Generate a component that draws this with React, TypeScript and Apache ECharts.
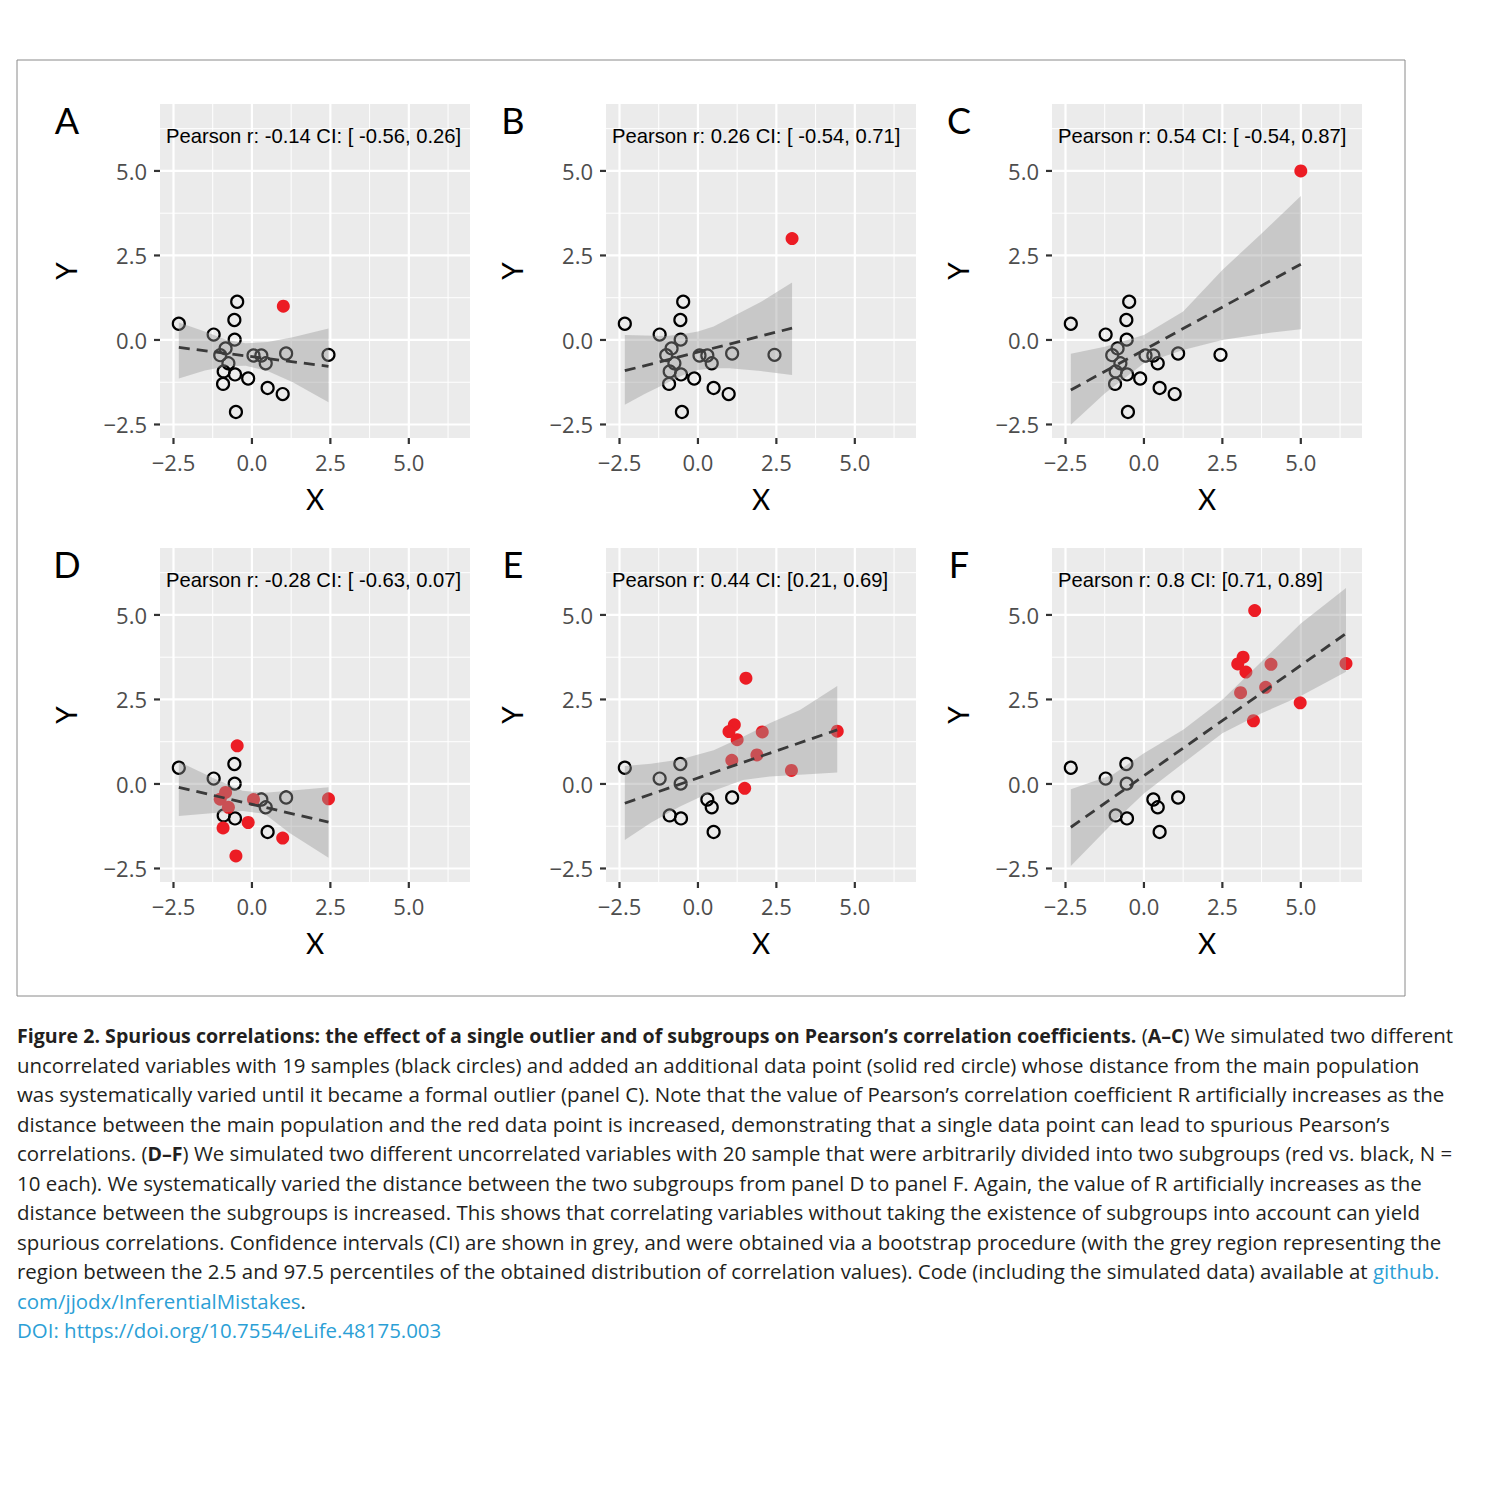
import React, { useEffect, useRef } from "react";
import * as echarts from "echarts";

// ---------- axis ticks / ranges ----------
const X_MAJOR = [-2.5, 0, 2.5, 5];
const X_MINOR = [-1.25, 1.25, 3.75, 6.25];
const Y_MAJOR = [-2.5, 0, 2.5, 5];
const Y_MINOR = [-1.25, 1.25, 3.75, 6.25];
const X_RANGE = [-2.93, 6.95];
const Y_RANGE = [-2.9, 6.98];

const PANEL_LETTERS = ["A", "B", "C", "D", "E", "F"];
const PANEL_STATS = [
  "Pearson r: -0.14 CI: [ -0.56, 0.26]",
  "Pearson r: 0.26 CI: [ -0.54, 0.71]",
  "Pearson r: 0.54 CI: [ -0.54, 0.87]",
  "Pearson r: -0.28 CI: [ -0.63, 0.07]",
  "Pearson r: 0.44 CI: [0.21, 0.69]",
  "Pearson r: 0.8 CI: [0.71, 0.89]",
];

// ---------- data ----------
// subgroup 1 (black circles in D–F)
const GROUP_BLACK = [
  [-2.33, 0.48], [-1.22, 0.16], [-0.56, 0.59], [-0.55, 0.01], [-0.9, -0.93],
  [-0.54, -1.02], [0.3, -0.46], [0.44, -0.69], [1.09, -0.4], [0.5, -1.42],
];
// subgroup 2 (red in D)
const GROUP_RED_D = [
  [-0.47, 1.13], [-0.84, -0.25], [-1.01, -0.45], [-0.75, -0.69], [0.05, -0.46],
  [-0.92, -1.3], [-0.12, -1.14], [-0.51, -2.13], [0.98, -1.6], [2.44, -0.44],
];
const GROUP_RED_E = [
  [1.53, 3.13], [1.16, 1.75], [0.99, 1.55], [1.25, 1.31], [2.05, 1.54],
  [1.08, 0.7], [1.88, 0.86], [1.49, -0.13], [2.98, 0.4], [4.44, 1.56],
];
const GROUP_RED_F = [
  [3.53, 5.13], [3.16, 3.75], [2.99, 3.55], [3.25, 3.31], [4.05, 3.54],
  [3.08, 2.7], [3.88, 2.86], [3.49, 1.87], [4.98, 2.4], [6.44, 3.56],
];
// panels A–C: main population (black) + single red point
const MAIN_POPULATION = [...GROUP_BLACK, ...GROUP_RED_D];
const OUTLIER_A = [[1.0, 1.0]];
const OUTLIER_B = [[3.0, 3.0]];
const OUTLIER_C = [[5.0, 5.0]];

// regression lines (endpoints)
const LINE_A = [[-2.33, -0.22], [2.44, -0.78]];
const LINE_B = [[-2.33, -0.91], [3.0, 0.35]];
const LINE_C = [[-2.33, -1.48], [5.0, 2.24]];
const LINE_D = [[-2.33, -0.1], [2.44, -1.13]];
const LINE_E = [[-2.33, -0.57], [4.44, 1.6]];
const LINE_F = [[-2.33, -1.28], [6.44, 4.45]];

// confidence bands [x, lower, upper]
const BAND_A = [[-2.33, -1.14, 0.52], [-1.5, -0.9, 0.25], [-0.8, -0.78, 0.0], [-0.2, -0.76, -0.1], [0.5, -0.92, -0.06], [1.3, -1.25, 0.08], [2.44, -1.84, 0.34]];
const BAND_B = [[-2.33, -1.92, 0.15], [-1.7, -1.6, 0.13], [-1.0, -1.28, 0.12], [-0.5, -1.05, 0.17], [0, -0.89, 0.25], [0.5, -0.84, 0.4], [1.0, -0.84, 0.64], [2.0, -0.92, 1.12], [3.0, -1.04, 1.7]];
const BAND_C = [[-2.33, -2.51, -0.41], [-1.25, -1.58, -0.2], [0, -0.69, 0.15], [1.25, -0.3, 0.84], [2.5, 0.0, 2.07], [3.75, 0.18, 3.15], [5.0, 0.32, 4.26]];
const BAND_D = [[-2.33, -0.95, 0.66], [-1.2, -0.86, 0.16], [-0.3, -0.8, -0.2], [0.4, -0.88, -0.26], [1.2, -1.45, -0.2], [2.44, -2.18, -0.1]];
const BAND_E = [[-2.33, -1.66, 0.53], [-1.5, -1.15, 0.6], [-0.57, -0.67, 0.72], [0.5, -0.2, 1.0], [1.44, 0.12, 1.4], [2.3, 0.22, 1.8], [3.25, 0.27, 2.19], [4.44, 0.34, 2.9]];
const BAND_F = [[-2.33, -2.43, -0.16], [-1.0, -1.16, 0.27], [0, -0.28, 0.91], [1.25, 0.61, 1.6], [2.5, 1.5, 2.49], [3.75, 2.09, 3.62], [5.0, 2.6, 4.75], [6.44, 3.32, 5.8]];

const PANELS = [
  { black: MAIN_POPULATION, red: OUTLIER_A, line: LINE_A, band: BAND_A },
  { black: MAIN_POPULATION, red: OUTLIER_B, line: LINE_B, band: BAND_B },
  { black: MAIN_POPULATION, red: OUTLIER_C, line: LINE_C, band: BAND_C },
  { black: GROUP_BLACK, red: GROUP_RED_D, line: LINE_D, band: BAND_D },
  { black: GROUP_BLACK, red: GROUP_RED_E, line: LINE_E, band: BAND_E },
  { black: GROUP_BLACK, red: GROUP_RED_F, line: LINE_F, band: BAND_F },
];

const CAPTION_LINES = [
  "{b|Figure 2. Spurious correlations: the effect of a single outlier and of subgroups on Pearson’s correlation coefficients.} ({b|A–C}) We simulated two different",
  "uncorrelated variables with 19 samples (black circles) and added an additional data point (solid red circle) whose distance from the main population",
  "was systematically varied until it became a formal outlier (panel C). Note that the value of Pearson’s correlation coefficient R artificially increases as the",
  "distance between the main population and the red data point is increased, demonstrating that a single data point can lead to spurious Pearson’s",
  "correlations. ({b|D–F}) We simulated two different uncorrelated variables with 20 sample that were arbitrarily divided into two subgroups (red vs. black, N =",
  "10 each). We systematically varied the distance between the two subgroups from panel D to panel F. Again, the value of R artificially increases as the",
  "distance between the subgroups is increased. This shows that correlating variables without taking the existence of subgroups into account can yield",
  "spurious correlations. Confidence intervals (CI) are shown in grey, and were obtained via a bootstrap procedure (with the grey region representing the",
  "region between the 2.5 and 97.5 percentiles of the obtained distribution of correlation values). Code (including the simulated data) available at {l|github.}",
  "{l|com/jjodx/InferentialMistakes}.",
  "{l|DOI: https://doi.org/10.7554/eLife.48175.003}",
];

const GRID_W = 310;
const GRID_H = 334;
const FONT = "Lato, 'Open Sans', sans-serif";
const CAP_FONT = "'Open Sans', Lato, sans-serif";
const TICK_FONT = "'Open Sans', Lato, sans-serif";
const CAP_SIZE = 20.45;
const CAP_BOLD_SIZE = 19.6;

const fmt = (v: number) => (v < 0 ? "−" : "") + Math.abs(v).toFixed(1);

export default function App() {
  const ref = useRef<HTMLDivElement>(null);
  useEffect(() => {
    if (!ref.current) return;
    const chart = echarts.init(ref.current, undefined, { renderer: "svg" });

    const pos = PANELS.map((_, i) => ({
      left: 160 + (i % 3) * 446,
      top: 104 + Math.floor(i / 3) * 444,
    }));

    const grids = pos.map((p) => ({
      left: p.left, top: p.top, width: GRID_W, height: GRID_H,
      show: true, backgroundColor: "#EBEBEB", borderWidth: 0,
    }));

    const xAxes = pos.map((_, i) => ({
      type: "value", gridIndex: i, min: X_RANGE[0], max: X_RANGE[1],
      name: "X", nameLocation: "middle", nameGap: 47,
      nameTextStyle: { fontSize: 28, color: "#000", fontFamily: FONT },
      axisLine: { show: false },
      axisTick: { show: false },
      axisLabel: { customValues: X_MAJOR, formatter: fmt, fontSize: 22, color: "#4D4D4D", margin: 13, fontFamily: TICK_FONT },
      splitLine: { show: false },
    }));
    const yAxes = pos.map((_, i) => ({
      type: "value", gridIndex: i, min: Y_RANGE[0], max: Y_RANGE[1],
      name: "Y", nameLocation: "middle", nameGap: 80,
      nameTextStyle: { fontSize: 28, color: "#000", fontFamily: FONT },
      axisLine: { show: false },
      axisTick: { show: false },
      axisLabel: { customValues: Y_MAJOR, formatter: fmt, fontSize: 22, color: "#4D4D4D", margin: 13, fontFamily: TICK_FONT },
      splitLine: { show: false },
    }));

    const series: any[] = [];
    PANELS.forEach((p, i) => {
      series.push({
        type: "custom", xAxisIndex: i, yAxisIndex: i, z: 1, silent: true, clip: false,
        data: [[0, 0]],
        renderItem: (params: any, api: any) => {
          const cs = params.coordSys;
          const children: any[] = [];
          const vline = (v: number, w: number) => {
            const x = api.coord([v, 0])[0];
            children.push({ type: "line", shape: { x1: x, y1: cs.y, x2: x, y2: cs.y + cs.height }, style: { stroke: "#fff", lineWidth: w } });
          };
          const hline = (v: number, w: number) => {
            const y = api.coord([0, v])[1];
            children.push({ type: "line", shape: { x1: cs.x, y1: y, x2: cs.x + cs.width, y2: y }, style: { stroke: "#fff", lineWidth: w } });
          };
          X_MINOR.forEach((v) => vline(v, 1));
          Y_MINOR.forEach((v) => hline(v, 1));
          X_MAJOR.forEach((v) => vline(v, 2.2));
          Y_MAJOR.forEach((v) => hline(v, 2.2));
          // tick marks outside the panel
          X_MAJOR.forEach((v) => {
            const x = api.coord([v, 0])[0];
            const yb = cs.y + cs.height;
            children.push({ type: "line", shape: { x1: x, y1: yb, x2: x, y2: yb + 6 }, style: { stroke: "#333", lineWidth: 2.2 } });
          });
          Y_MAJOR.forEach((v) => {
            const y = api.coord([0, v])[1];
            children.push({ type: "line", shape: { x1: cs.x - 6, y1: y, x2: cs.x, y2: y }, style: { stroke: "#333", lineWidth: 2.2 } });
          });
          return { type: "group", children };
        },
      });
      series.push({
        type: "scatter", xAxisIndex: i, yAxisIndex: i, z: 2, silent: true,
        symbol: "circle", symbolSize: 12,
        itemStyle: { color: "rgba(0,0,0,0)", borderColor: "#000", borderWidth: 2.2, opacity: 1 },
        data: p.black,
      });
      series.push({
        type: "scatter", xAxisIndex: i, yAxisIndex: i, z: 2, silent: true,
        symbol: "circle", symbolSize: 13,
        itemStyle: { color: "#EC1C24", opacity: 1 },
        data: p.red,
      });
      series.push({
        type: "custom", xAxisIndex: i, yAxisIndex: i, z: 3, silent: true,
        data: [[0, 0]],
        renderItem: (params: any, api: any) => {
          const upper = p.band.map((b) => api.coord([b[0], b[2]]));
          const lower = p.band.slice().reverse().map((b) => api.coord([b[0], b[1]]));
          return {
            type: "polygon",
            shape: { points: upper.concat(lower) },
            style: { fill: "rgba(153,153,153,0.42)", stroke: "none" },
          };
        },
      });
      series.push({
        type: "line", xAxisIndex: i, yAxisIndex: i, z: 4, silent: true,
        symbol: "none", showSymbol: false,
        lineStyle: { color: "#3a3a3a", width: 2.8, type: [11, 7] },
        data: p.line,
      });
    });

    const graphics: any[] = [];
    graphics.push({
      type: "rect", shape: { x: 17, y: 60, width: 1388, height: 936 },
      style: { fill: "none", stroke: "#8a8a8a", lineWidth: 1 },
    });
    pos.forEach((p, i) => {
      graphics.push({
        type: "text", x: p.left - 93, y: p.top + 16,
        style: { text: PANEL_LETTERS[i], fontSize: 36, fontFamily: FONT, fill: "#000", textAlign: "center", textVerticalAlign: "middle" },
      });
      graphics.push({
        type: "text", x: p.left + 6, y: p.top + 32, z: 10,
        style: { text: PANEL_STATS[i], fontSize: 20.2, fontFamily: "'Liberation Sans', Arial, sans-serif", fill: "#000", textAlign: "left", textVerticalAlign: "middle" },
      });
    });
    CAPTION_LINES.forEach((t, k) => {
      graphics.push({
        type: "text", x: 17, y: 1035 + k * 29.5,
        style: {
          text: t, fontSize: CAP_SIZE, fontFamily: CAP_FONT, fill: "#231f20",
          textAlign: "left", textVerticalAlign: "middle",
          rich: {
            b: { fontWeight: "bold", fontSize: CAP_BOLD_SIZE, fontFamily: CAP_FONT, fill: "#231f20" },
            l: { fontSize: CAP_SIZE, fontFamily: CAP_FONT, fill: "#2c9fd6" },
          },
        },
      });
    });

    chart.setOption({
      animation: false,
      backgroundColor: "#ffffff",
      grid: grids,
      xAxis: xAxes,
      yAxis: yAxes,
      series,
      graphic: graphics,
    });
    return () => chart.dispose();
  }, []);
  return <div ref={ref} style={{ position: "absolute", left: 0, top: 0, width: 1500, height: 1480 }} />;
}
